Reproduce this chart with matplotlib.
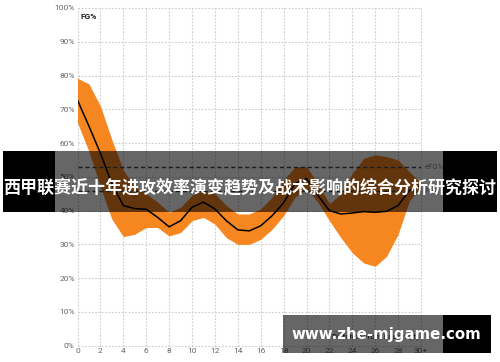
import matplotlib
matplotlib.use("Agg")
import matplotlib.pyplot as plt
from matplotlib.patches import Rectangle

# distance from basket (ft) and shooting percentages
distance = list(range(0, 31))
fg_median = [72.7, 65.0, 57.0, 48.0, 41.5, 40.6, 40.4, 38.0, 35.2, 37.0,
             41.0, 42.5, 40.5, 37.0, 34.3, 34.0, 35.5, 38.5, 42.3, 48.0,
             49.5, 44.5, 40.0, 39.0, 39.3, 39.7, 39.5, 39.8, 41.5, 46.0, 47.5]
fg_upper = [79.2, 77.5, 71.0, 61.0, 52.0, 47.0, 45.0, 42.5, 39.5, 41.0,
            44.5, 46.0, 45.0, 41.5, 39.0, 39.0, 40.5, 44.0, 49.0, 53.0,
            53.0, 48.0, 42.0, 45.0, 51.0, 55.5, 56.5, 56.0, 55.0, 51.5, 48.0]
fg_lower = [66.0, 57.5, 47.0, 37.5, 32.3, 33.0, 35.0, 35.0, 32.5, 33.5,
            37.0, 38.0, 36.0, 32.0, 30.0, 30.0, 31.5, 34.5, 38.5, 44.0,
            46.5, 42.5, 37.0, 32.0, 27.5, 24.5, 23.5, 26.5, 33.0, 43.0, 47.0]

# league averages shown as dashed reference lines
ref_names = ["eFG%", "FG%"]
ref_values = [52.9, 45.8]

x_ticks = list(range(0, 31, 2))
x_tick_labels = [str(t) for t in x_ticks[:-1]] + ["30+"]
y_ticks = list(range(0, 101, 10))
y_tick_labels = [f"{t}%" for t in y_ticks]

title = "西甲联赛近十年进攻效率演变趋势及战术影响的综合分析研究探讨"
watermark = "www.zhe-mjgame.com"

fig = plt.figure(figsize=(5.0, 3.62), dpi=100)
ax = fig.add_axes([0.155, 0.045, 0.687, 0.933])

ax.fill_between(distance, fg_lower, fg_upper, color="#f58620", linewidth=0, zorder=2)
ax.plot(distance, fg_median, color="black", linewidth=1.1, zorder=3)

for name, val in zip(ref_names, ref_values):
    ax.axhline(val, color="#34495e", linestyle=(0, (3, 2)), linewidth=1.0, zorder=4)
    ax.text(30.3, val, name, fontsize=5.5, color="#888888", va="center",
            ha="left", family="Roboto")

ax.set_xlim(0, 30)
ax.set_ylim(0, 100)
ax.set_xticks(x_ticks)
ax.set_xticklabels(x_tick_labels)
ax.set_yticks(y_ticks)
ax.set_yticklabels(y_tick_labels)
ax.tick_params(length=0, labelsize=6, labelcolor="#666666", pad=2)
for lab in ax.get_xticklabels() + ax.get_yticklabels():
    lab.set_family("Roboto")
for s in ax.spines.values():
    s.set_visible(False)
ax.grid(True, color="#cccccc", linestyle=(0, (1.5, 1.5)), linewidth=0.8, zorder=0)
for gl in ax.get_xgridlines() + ax.get_ygridlines():
    gl.set_clip_on(False)

ax.text(0.3, 98.5, "FG%", fontsize=6, fontweight="bold", color="#222222",
        va="top", ha="left", family="Roboto")
ax.text(26.0, 2.5, "Distance From Basket (ft)", fontsize=5.5, color="#333333",
        va="center", ha="center", family="Roboto")

W, H = 500.0, 362.0


def banner(x0, x1, y0, y1, color, alpha):
    fig.add_artist(Rectangle((x0 / W, 1 - y1 / H), (x1 - x0) / W, (y1 - y0) / H,
                             transform=fig.transFigure, facecolor=color,
                             alpha=alpha, linewidth=0, zorder=5))


# title banner
banner(3, 55, 151, 212, "black", 1.0)
banner(55, 443, 151, 212, "black", 0.6)
banner(443, 497, 151, 212, "black", 1.0)
fig.text(250 / W, 1 - 187 / H, title, color="white", fontsize=12.25,
         fontweight="bold", ha="center", va="center", zorder=6,
         family=["Noto Sans CJK SC", "DejaVu Sans"])

# watermark banner
banner(283, 443, 315, 353, "black", 0.6)
banner(443, 491, 315, 353, "black", 1.0)
fig.text(386 / W, 1 - 335 / H, watermark, color="white", fontsize=10.8,
         fontweight="bold", ha="center", va="center", zorder=6,
         family="DejaVu Sans")

fig.savefig("out.png", dpi=100)
